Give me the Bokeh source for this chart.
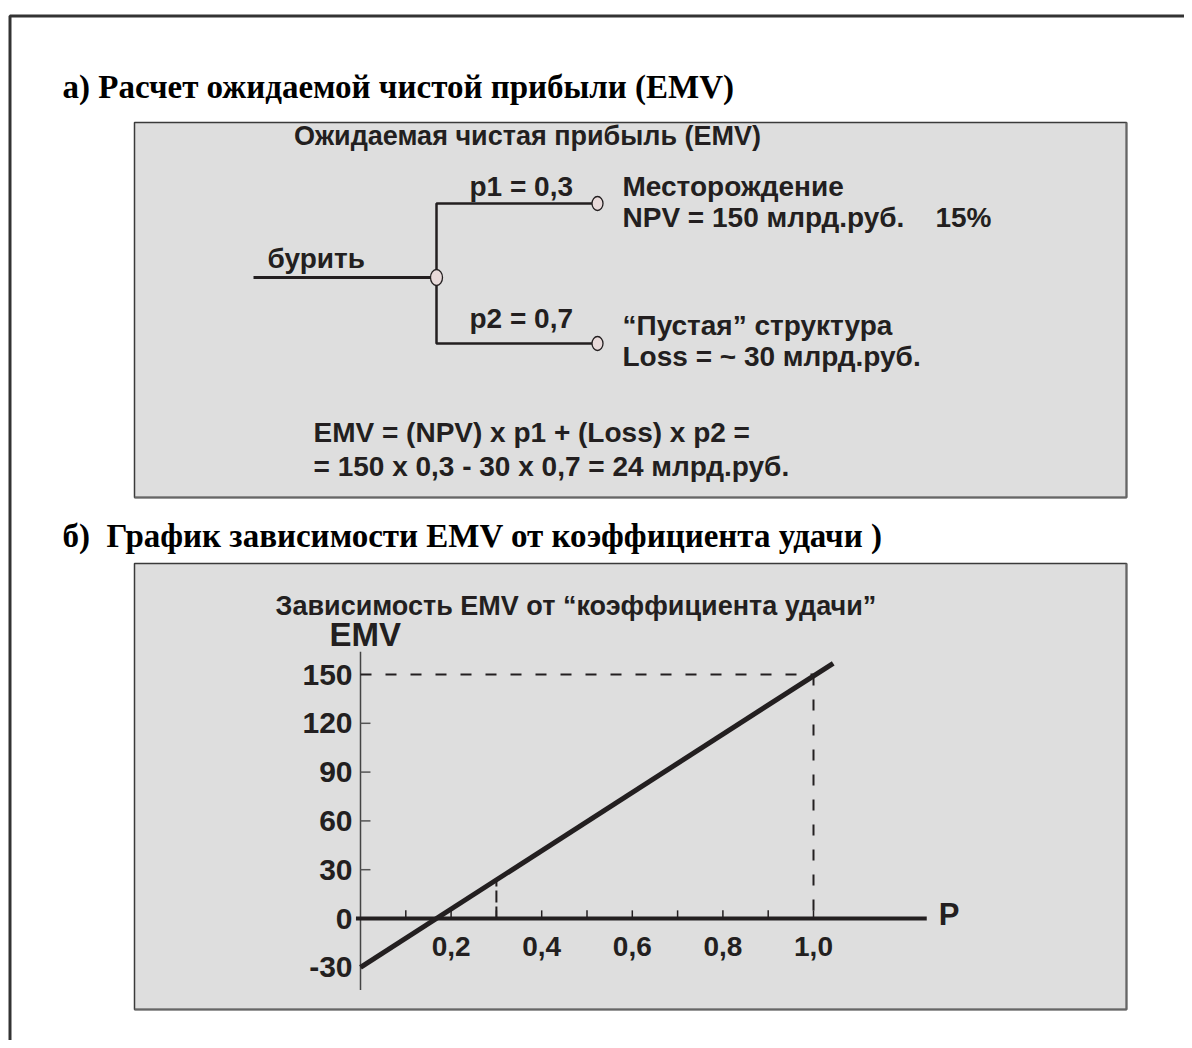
from bokeh.plotting import figure
from bokeh.models import Range1d
from bokeh.core.properties import value
from bokeh.embed import file_html
from bokeh.resources import INLINE

# ---------------- data: chart б) EMV vs success coefficient ----------------
p_line = [0.0, 1.0435]          # P values at the ends of the EMV line
emv_line = [-30.0, 156.9]       # EMV (млрд.руб.) at those ends
y_tick_vals = [150, 120, 90, 60, 30, 0, -30]
y_tick_labels = ["150", "120", "90", "60", "30", "0", "-30"]
y_minor_vals = [120, 90, 60, 30]
x_tick_vals = [0.1, 0.2, 0.3, 0.4, 0.5, 0.6, 0.7, 0.8, 0.9, 1.0]
x_label_vals = [0.2, 0.4, 0.6, 0.8, 1.0]
x_labels = ["0,2", "0,4", "0,6", "0,8", "1,0"]
npv_value = 150
p_example = 0.3
emv_example = 24
p_max = 1.0
x_axis_end = 1.25
y_axis_span = [-44, 164]

# ---------------- texts ----------------
NB = "\u00a0"
title_a = "а) Расчет ожидаемой чистой прибыли (EMV)"
title_b = "б)" + NB + " График зависимости EMV от коэффициента удачи" + NB + ")"
box_a_title = "Ожидаемая чистая прибыль (EMV)"
tree_labels = ["бурить", "p1 = 0,3", "p2 = 0,7", "Месторождение",
               "NPV = 150 млрд.руб." + NB * 4 + "15%", "“Пустая” структура",
               "Loss = ~ 30 млрд.руб."]
formula_lines = ["EMV = (NPV) x p1 + (Loss) x p2 =",
                 "= 150 x 0,3 - 30 x 0,7 = 24 млрд.руб."]
chart_title = "Зависимость EMV от “коэффициента удачи”"

# ---------------- page layout (pixel canvas) ----------------
W, H = 1184, 1040
OX, OY = 0, 0
X0, SX = 360.0, 453.0      # pixel of P=0, pixels per unit P
Y0, SY = 918.0, 244.0 / 150.0  # pixel of EMV=0, pixels per EMV unit

INK = "#231f20"
SANS = value("Liberation Sans")
SERIF = value("Liberation Serif")

p = figure(width=W, height=H, output_backend="svg", toolbar_location=None,
           x_range=Range1d(OX, OX + W), y_range=Range1d(OY + H, OY),
           x_axis_type=None, y_axis_type=None, min_border=0,
           background_fill_color="white", border_fill_color="white")
p.outline_line_color = None
p.grid.visible = False
p.extra_x_ranges = {"P": Range1d((OX - X0) / SX, (OX + W - X0) / SX)}
p.extra_y_ranges = {"E": Range1d((Y0 - (OY + H)) / SY, (Y0 - OY) / SY)}

# outer frame (open to the right and bottom)
p.line([1400, 9.5, 9.5], [15.5, 15.5, 1400], line_color="#333333", line_width=3)

# grey panels
for (l, r, t, b) in [(134, 1126, 122, 497), (134, 1126, 563, 1009)]:
    p.quad(left=l, right=r, top=t, bottom=b, fill_color="#dedede",
           line_color="#3a3a3a", line_width=1.5)
    p.line([l, r, r], [b, b, t], line_color="#666666", line_width=2)

# section titles
p.text(x=[62, 62], y=[86, 535], text=[title_a, title_b], text_font=SERIF,
       text_font_style="bold", text_font_size="33px", text_color="black",
       text_baseline="middle")

# ---------------- decision tree ----------------
p.line([253, 436], [277, 277], line_color=INK, line_width=3)
p.line([597, 436, 436, 597], [203, 203, 343, 343], line_color=INK, line_width=2.5)
p.ellipse(x=[436, 597, 597], y=[277, 203, 343], width=[12, 11, 11],
          height=[16, 14, 14], fill_color="#e8dada", line_color=INK, line_width=1.3)

p.text(x=[527], y=[135], text=[box_a_title], text_font=SANS, text_font_style="bold",
       text_font_size="27px", text_color=INK, text_baseline="middle",
       text_align="center")
p.text(x=[267, 469, 469, 622, 622, 622, 622],
       y=[258, 186, 318, 186, 217, 325, 356], text=tree_labels, text_font=SANS,
       text_font_style="bold", text_font_size="28px", text_color=INK,
       text_baseline="middle")
p.text(x=[313, 313], y=[432, 466], text=formula_lines, text_font=SANS,
       text_font_style="bold", text_font_size="28px", text_color=INK,
       text_baseline="middle")

# ---------------- chart б) ----------------
p.text(x=[275], y=[605], text=[chart_title], text_font=SANS, text_font_style="bold",
       text_font_size="27px", text_color=INK, text_baseline="middle")
p.text(x=[329], y=[634], text=["EMV"], text_font=SANS, text_font_style="bold",
       text_font_size="33px", text_color=INK, text_baseline="middle")

R = dict(x_range_name="P", y_range_name="E")
# y axis
p.line([0, 0], y_axis_span, line_color="#444444", line_width=1.5, **R)
p.segment(x0=[0] * len(y_minor_vals), y0=y_minor_vals, x1=[0.022] * len(y_minor_vals),
          y1=y_minor_vals, line_color="#555555", line_width=1.5, **R)
p.text(x=[0] * len(y_tick_vals), y=y_tick_vals, text=y_tick_labels, x_offset=-8,
       text_align="right", text_baseline="middle", text_font=SANS,
       text_font_style="bold", text_font_size="30px", text_color=INK, **R)
# reference dashed lines
p.line([0, p_max], [npv_value, npv_value], line_color=INK, line_width=2,
       line_dash="11 14", **R)
p.line([p_max, p_max], [npv_value, 0], line_color=INK, line_width=2,
       line_dash="11 14", **R)
p.line([p_example, p_example], [0, emv_example], line_color=INK, line_width=2,
       line_dash="12 4", **R)
# x axis
p.line([-0.01, x_axis_end], [0, 0], line_color=INK, line_width=4, **R)
p.segment(x0=x_tick_vals, y0=[0] * len(x_tick_vals), x1=x_tick_vals,
          y1=[5] * len(x_tick_vals), line_color=INK, line_width=1.5, **R)
p.text(x=x_label_vals, y=[0] * len(x_label_vals), text=x_labels, y_offset=28,
       text_align="center", text_baseline="middle", text_font=SANS,
       text_font_style="bold", text_font_size="28px", text_color=INK, **R)
p.text(x=[x_axis_end], y=[0], text=["P"], x_offset=12, y_offset=-4,
       text_align="left", text_baseline="middle", text_font=SANS,
       text_font_style="bold", text_font_size="31px", text_color=INK, **R)
# EMV line
p.line(p_line, emv_line, line_color=INK, line_width=5, **R)

open("out.html", "w").write(file_html(p, INLINE))
